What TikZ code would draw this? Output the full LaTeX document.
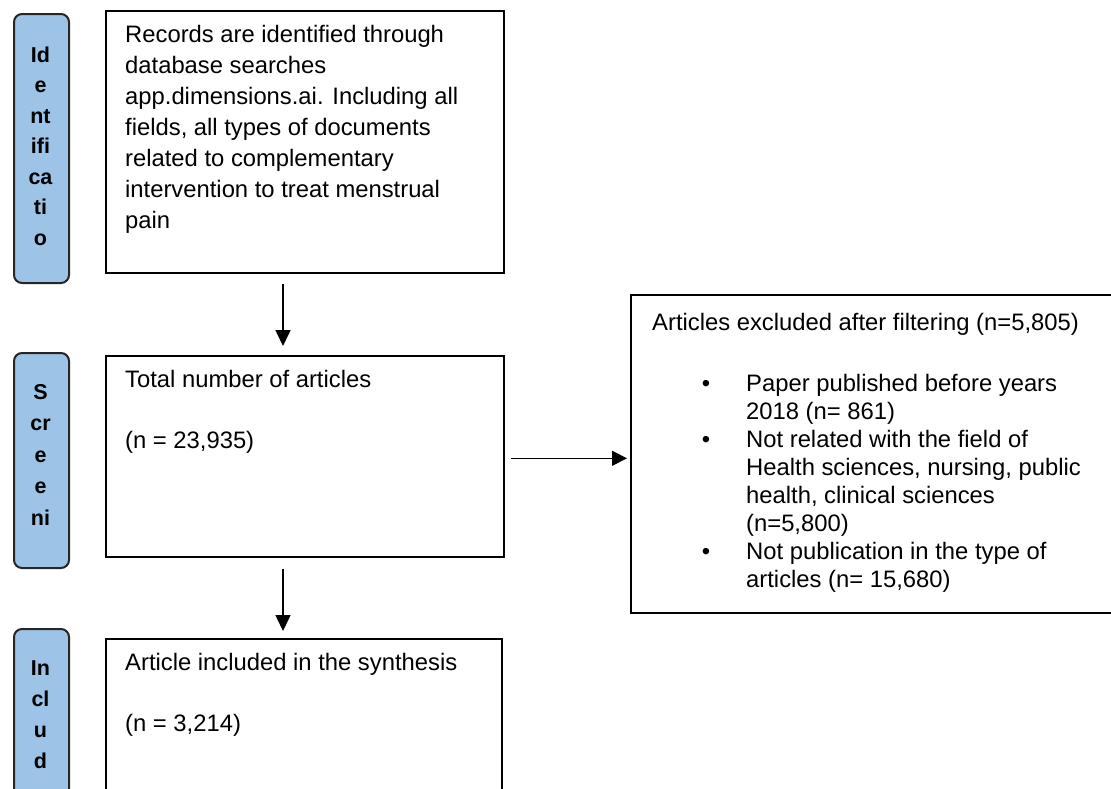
\documentclass[tikz,border=0pt]{standalone}
\usepackage{fontspec}
\setmainfont{Liberation Sans}
\usetikzlibrary{arrows.meta}
\definecolor{pillblue}{RGB}{157,195,230}
\tikzset{
  box/.style={draw=black, line width=2pt, anchor=north west, inner sep=0pt},
  pill/.style={draw=black!85, line width=2pt, fill=pillblue, rounded corners=8pt, anchor=north west, inner sep=0pt, minimum width=55pt},
  body/.style={anchor=north west, inner sep=0pt, align=left, font=\fontsize{23.8}{31}\selectfont},
  bodylist/.style={anchor=north west, inner sep=0pt, align=left, font=\fontsize{23.8}{28}\selectfont},
  bul/.style={anchor=base, inner sep=0pt, font=\fontsize{23.8}{28}\selectfont},
  pilltext/.style={anchor=north, inner sep=0pt, align=center, font=\bfseries\fontsize{21.5}{30.5}\selectfont},
  arr/.style={line width=1.5pt, -{Triangle[length=16pt,width=15pt]}},
  harr/.style={line width=1pt, -{Triangle[length=15pt,width=15pt]}},
}
\newcommand\tstrut{\rule{0pt}{20pt}}
\begin{document}
\begin{tikzpicture}[x=1pt,y=-1pt]
\useasboundingbox (0,0) rectangle (1111,788);
% pills
\node[pill, minimum height=269pt] (p1) at (13,13) {};
\node[pill, minimum height=215pt] (p2) at (13,352) {};
\node[pill, minimum height=175pt] (p3) at (13,628) {};
\node[pilltext] (p1t) at (40.5,42) {\tstrut Id\\e\\nt\\ifi\\ca\\ti\\o};
\node[pilltext, font=\bfseries\fontsize{21.5}{31.5}\selectfont] (p2t) at (40.5,379) {\tstrut S\\cr\\e\\e\\ni};
\node[pilltext, font=\bfseries\fontsize{21.5}{30.8}\selectfont] (p3t) at (40.5,655.7) {\tstrut In\\cl\\u\\d};
% boxes
\node[box, minimum width=398pt, minimum height=262pt] (b1) at (105,10) {};
\node[box, minimum width=398pt, minimum height=201pt] (b2) at (105,355) {};
\node[box, minimum width=486pt, minimum height=318pt] (b3) at (630,294) {};
\node[box, minimum width=396pt, minimum height=160pt] (b4) at (105,638) {};
% texts
\node[body] (t1) at (125,22) {\tstrut Records are identified through\\database searches\\app.dimensions.ai. Including all\\fields, all types of documents\\related to complementary\\intervention to treat menstrual\\pain};
\node[body] (t2a) at (125,367) {\tstrut Total number of articles};
\node[body] (t2b) at (125,428) {\tstrut (n = 23,935)};
\node[body] (t4a) at (125,650) {\tstrut Article included in the synthesis};
\node[body] (t4b) at (125,711) {\tstrut (n = 3,214)};
\node[body] (t3) at (652,310) {\tstrut Articles excluded after filtering (n=5,805)};
\node[bodylist] (t3l) at (746,371) {\tstrut Paper published before years\\2018 (n= 861)\\Not related with the field of\\Health sciences, nursing, public\\health, clinical sciences\\(n=5,800)\\Not publication in the type of\\articles (n= 15,680)};
\node[bul] (u1) at (706,391) {\textbullet};
\node[bul] (u2) at (706,447) {\textbullet};
\node[bul] (u3) at (706,559) {\textbullet};
% arrows
\draw[arr] ([xshift=178pt,yshift=-10pt]b1.south west) -- ([xshift=178pt,yshift=9pt]b2.north west);
\draw[arr] ([xshift=178pt,yshift=-11pt]b2.south west) -- ([xshift=178pt,yshift=7pt]b4.north west);
\draw[harr] ([xshift=6pt,yshift=-1.8pt]b2.east) -- ([xshift=-3pt,yshift=-1.8pt]b2.east -| b3.west);
\end{tikzpicture}
\end{document}
